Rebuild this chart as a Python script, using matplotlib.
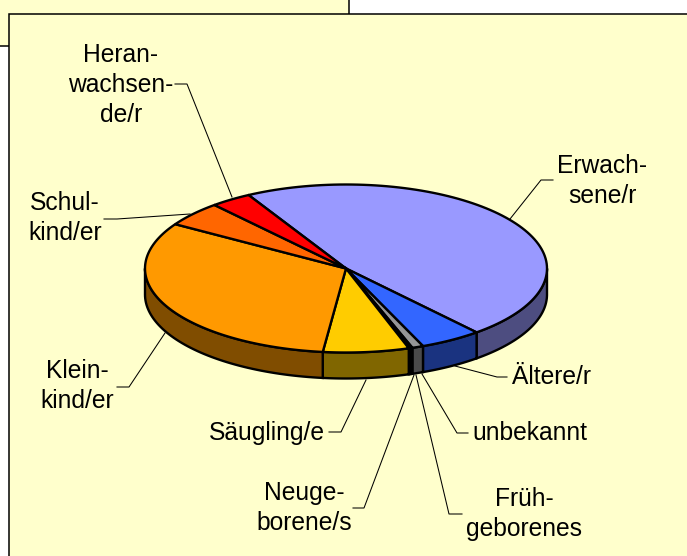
import numpy as np
import matplotlib
matplotlib.use('Agg')
import matplotlib.pyplot as plt
from matplotlib.patches import Rectangle

# Parameters
categories = ['Erwachsene/r', 'Ältere/r', 'unbekannt', 'Frühgeborenes', 'Neugeborene/s',
              'Säugling/e', 'Kleinkind/er', 'Schulkind/er', 'Heranwachsende/r']
values = [46.8, 5.0, 0.9, 0.15, 0.15, 6.9, 32.0, 4.8, 3.3]
top_colors = ['#9999FF', '#3366FF', '#969696', '#808080', '#808080',
              '#FFCC00', '#FF9900', '#FF6600', '#FF0000']
side_colors = ['#4D4D80', '#1A3380', '#4B4B4B', '#404040', '#404040',
               '#806600', '#804D00', '#803300', '#800000']

# Pie geometry in pixels
cx, cy = 346, 268.5
rx, ry = 201, 84
depth = 26
start_angle = 119

fig = plt.figure(figsize=(6.87, 5.56), dpi=100)
ax = fig.add_axes([0, 0, 1, 1])
ax.set_xlim(0, 687)
ax.set_ylim(556, 0)
ax.axis('off')

# Background panels
ax.add_patch(Rectangle((-20, -20), 369, 66, fc='#FFFFCC', ec='black', lw=1.1))
ax.add_patch(Rectangle((9, 14), 700, 600, fc='#FFFFCC', ec='black', lw=1.1))


def ell(t):
    return cx + rx * np.cos(np.radians(t)), cy - ry * np.sin(np.radians(t))


fracs = np.array(values) / sum(values) * 360
angles = start_angle - np.concatenate([[0], np.cumsum(fracs)])

# Side walls, only the front half can be seen
for i in range(len(values)):
    hi, lo = min(angles[i], 0), max(angles[i + 1], -180)
    if hi <= lo:
        continue
    x, y = ell(np.linspace(hi, lo, 60))
    ax.fill(np.r_[x, x[::-1]], np.r_[y, y[::-1] + depth], fc=side_colors[i], ec='black', lw=1.7)

# Top wedges
for i in range(len(values)):
    x, y = ell(np.linspace(angles[i], angles[i + 1], 100))
    ax.fill(np.r_[cx, x], np.r_[cy, y], fc=top_colors[i], ec='black', lw=1.7)

# Leader lines
leaders = [
    ([175, 187, 232], [84, 84, 197]),
    ([553, 541, 510], [180, 180, 219]),
    ([104, 117, 190], [219, 219, 214]),
    ([117, 129, 165], [387, 387, 333]),
    ([507, 497, 455], [377, 377, 366]),
    ([468, 457, 422], [433, 433, 374]),
    ([462, 449, 416], [514, 514, 375]),
    ([353, 364, 414], [508, 508, 375]),
    ([329, 341, 366], [432, 432, 380]),
]
for lx, ly in leaders:
    ax.plot(lx, ly, color='black', lw=0.75)

# Labels
labels = [
    (121, 85, 'Heran-\nwachsen-\nde/r'),
    (602, 181, 'Erwach-\nsene/r'),
    (65, 218, 'Schul-\nkind/er'),
    (77, 386, 'Klein-\nkind/er'),
    (551, 377, 'Ältere/r'),
    (530, 433, 'unbekannt'),
    (267, 433, 'Säugling/e'),
    (304, 508, 'Neuge-\nborene/s'),
    (524, 514, 'Früh-\ngeborenes'),
]
for lx, ly, s in labels:
    ax.text(lx, ly, s, ha='center', va='center', fontsize=17.7, family='Liberation Sans', linespacing=1.3)

fig.savefig('out.png', dpi=100)
